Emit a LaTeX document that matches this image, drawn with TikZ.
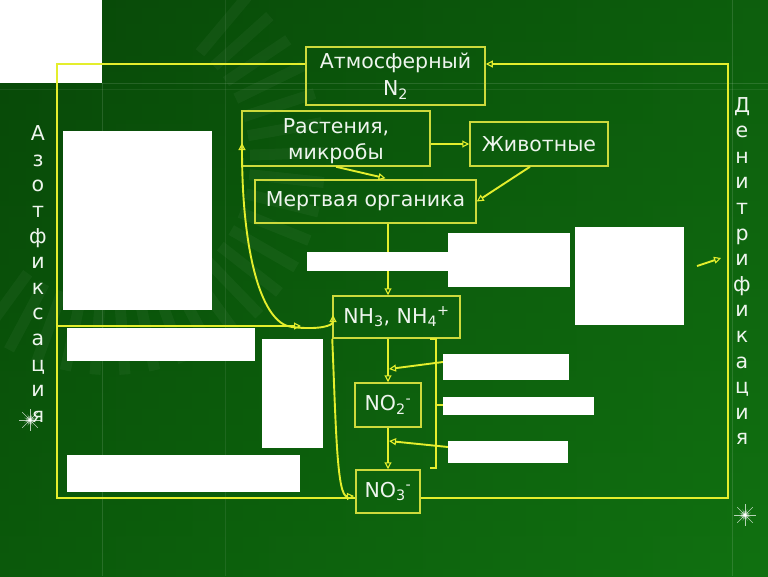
\documentclass[tikz,border=0pt]{standalone}
\usepackage{fontspec}
\setmainfont{DejaVu Sans}
\usetikzlibrary{arrows.meta,calc}
\definecolor{ln}{RGB}{228,238,45}
\definecolor{bx}{RGB}{205,218,60}
\definecolor{tx}{RGB}{238,245,238}
\definecolor{bgT}{RGB}{8,72,8}
\definecolor{bgB}{RGB}{15,108,15}
\definecolor{bgL}{RGB}{8,72,8}
\definecolor{bgR}{RGB}{18,118,18}
\begin{document}
\begin{tikzpicture}[x=1pt,y=-1pt,
  box/.style={draw=bx, line width=1.5pt, text=tx, align=center, inner sep=0pt,
              font=\fontsize{20.5}{27}\selectfont},
  tip/.style={-{Triangle[open,length=7pt,width=7pt,line width=1.1pt]}},
  flow/.style={draw=ln, line width=1.9pt, tip},
  mainloop/.style={draw=ln, line width=2.6pt},
  blank/.style={fill=white},
  vtext/.style={text=tx, align=center, inner sep=0pt, font=\fontsize{20.5}{25.6}\selectfont},
  faint/.style={draw=white, opacity=0.12, line width=1pt}]
\useasboundingbox (0,0) rectangle (768,576);
\shade[top color=bgT, bottom color=bgB] (0,0) rectangle (768,576);
\shade[left color=bgL, right color=bgR, opacity=0.5] (0,0) rectangle (768,576);
% faint ray ring decoration
\foreach \a in {-50,-42,...,130}
  \draw[white, opacity=0.04, line width=11pt] ($(110,160)+(\a:140)$) -- ($(110,160)+(\a:215)$);
% faint grid lines
\draw[faint] (102,83) -- (768,83);
\draw[faint, opacity=0.07] (0,89) -- (768,89);
\draw[faint] (102,83) -- (102,576);
\draw[faint, opacity=0.08] (225,0) -- (225,576);
\draw[faint] (732,0) -- (732,576);
% top-left white block
\fill[blank] (0,0) rectangle (102,83);

% boxes
\node[box, minimum width=179pt, minimum height=58pt] (atm) at (395.5,76) {Атмосферный\\N\textsubscript{2}};
\node[box, minimum width=188pt, minimum height=55pt,
      label={[text=tx, align=center, font=\fontsize{20.5}{26}\selectfont, yshift=-3pt]center:Растения,\\микробы}]
      (rast) at (336,138.5) {};
\node[box, minimum width=138pt, minimum height=44pt] (zhiv) at (539,144) {Животные};
\node[box, minimum width=221pt, minimum height=43pt] (mert) at (365.5,201.5) {Мертвая органика};
\node[box, minimum width=127pt, minimum height=42pt] (nh) at (396.5,317) {NH\textsubscript{3}, NH\textsubscript{4}\textsuperscript{+}};
\node[box, minimum width=66pt, minimum height=44pt] (no2) at (388,405) {NO\textsubscript{2}\textsuperscript{-}};
\node[box, minimum width=64pt, minimum height=43pt] (no3) at (388,491.5) {NO\textsubscript{3}\textsuperscript{-}};

% vertical labels
\node[vtext] (azot) at (38,274) {А\\з\\о\\т\\ф\\и\\к\\с\\а\\ц\\и\\я};
\node[vtext] (denitr) at (742,271) {Д\\е\\н\\и\\т\\р\\и\\ф\\и\\к\\а\\ц\\и\\я};

% named coordinates
\coordinate (lt) at (57,64);
\coordinate (lb) at (57,498);
\coordinate (rb) at (728,498);
\coordinate (rt) at (728,64);
\coordinate (af) at (57,326);
\coordinate (afend) at (301,326);
\coordinate (rtip) at (242,143);
\coordinate (cbot) at (292,327);
\coordinate (ntip) at (333,315);
\coordinate (no3in) at (354,496);
\coordinate (d1) at (697,266);
\coordinate (d2) at (721,258);
\coordinate (b1) at (443,362);
\coordinate (b1t) at (389,369);
\coordinate (b3) at (448,447);
\coordinate (b3t) at (389,441);

% main cycle
\draw[mainloop] (atm.west|-lt) -- (lt) -- (lb) -- (no3.west|-lb);
\draw[mainloop, tip] (no3.east|-rb) -- (rb) -- (rt) -- (atm.east|-rt);
% fixation branch
\draw[flow] (af) -- (afend);
\draw[flow, {Triangle[open,length=7pt,width=7pt,line width=1.1pt]}-{Triangle[open,length=7pt,width=7pt,line width=1.1pt]}]
  (rtip) .. controls (242,255) and (262,324) .. (cbot) .. controls (318,330) and (333,326) .. (ntip);
\draw[flow] (nh.south west) .. controls (336,430) and (337,497) .. (no3in);
% food chain
\draw[flow] (rast.east|-zhiv.west) -- (zhiv.west);
\draw[flow] (rast.south) -- ($(mert.north)+(20,-1)$);
\draw[flow] ($(zhiv.south)+(-9,0)$) -- (mert.east);
% mineralisation chain
\draw[flow] (no2.north|-mert.south) -- (no2.north|-nh.north);
\draw[flow] (no2.north|-nh.south) -- (no2.north);
\draw[flow] (no2.south) -- (no3.north);
\draw[flow] (b1) -- (b1t);
\draw[flow] (b3) -- (b3t);
% bracket
\draw[draw=ln, line width=1.5pt] (430,339) -- (436,339) -- (436,468) -- (430,468);
\draw[draw=ln, line width=1.5pt] (436,405) -- (443,405);
% denitrification arrow
\draw[flow] (d1) -- (d2);

% white blanks
\fill[blank] (63,131) rectangle (212,310);
\fill[blank] (67,328) rectangle (255,361);
\fill[blank] (262,339) rectangle (323,448);
\fill[blank] (67,455) rectangle (300,492);
\fill[blank] (307,252) rectangle (448,271);
\fill[blank] (448,233) rectangle (570,287);
\fill[blank] (575,227) rectangle (684,325);
\fill[blank] (443,354) rectangle (569,380);
\fill[blank] (443,397) rectangle (594,415);
\fill[blank] (448,441) rectangle (568,463);

% sparkles
\foreach \p in {(30,420),(745,515)} {
  \foreach \a in {0,45,...,315}
    \draw[white, opacity=0.7, line width=0.6pt] \p -- ++(\a:11);
  \foreach \a in {22,67,...,337}
    \draw[white, opacity=0.5, line width=0.4pt] \p -- ++(\a:6);
  \fill[white, opacity=0.35] \p circle (4);
  \fill[white] \p circle (1.8);
}
\end{tikzpicture}
\end{document}
